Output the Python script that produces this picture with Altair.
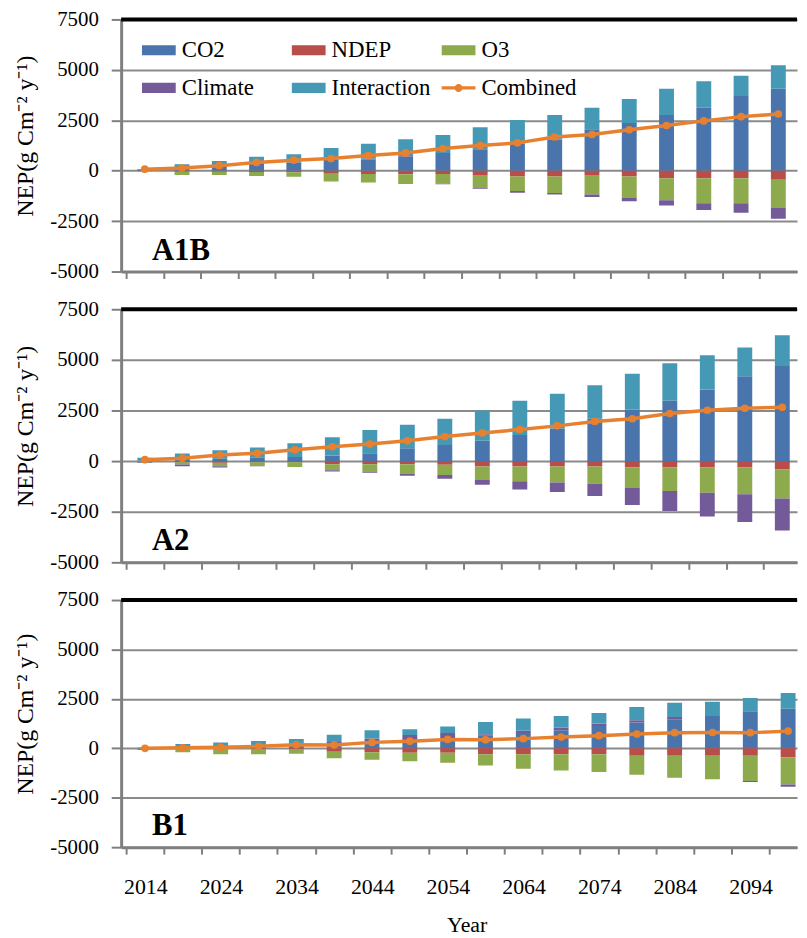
import altair as alt
import pandas as pd

years = list(range(2014, 2100, 5))
series = ["CO2", "NDEP", "O3", "Climate", "Interaction"]

# A1B
a1b_co2 = [40, 120, 180, 280, 330, 560, 560, 700, 880, 1060, 1350, 1540, 2060, 2360, 2760, 3120, 3700, 4060]
a1b_ndep = [-10, -50, -50, -60, -80, -150, -160, -170, -160, -210, -290, -290, -210, -290, -370, -370, -370, -450]
a1b_o3 = [-20, -160, -160, -200, -220, -380, -430, -490, -490, -650, -720, -810, -970, -1060, -1100, -1250, -1250, -1380]
a1b_climate = [20, 40, 60, 90, 70, 90, 40, 30, -20, -30, -80, -80, -130, -160, -260, -330, -470, -550]
a1b_interaction = [30, 165, 245, 325, 420, 470, 730, 830, 890, 1090, 1170, 1220, 1060, 1200, 1300, 1320, 1010, 1170]
a1b_combined = [75, 130, 250, 410, 520, 600, 750, 880, 1100, 1250, 1380, 1670, 1800, 2030, 2240, 2470, 2680, 2810]

# A2
a2_co2 = [30, 100, 120, 170, 200, 280, 390, 630, 800, 1000, 1290, 1610, 2090, 2540, 2980, 3540, 4190, 4700]
a2_ndep = [-20, -60, -80, -60, -60, -160, -160, -160, -180, -270, -270, -270, -270, -320, -320, -320, -320, -420]
a2_o3 = [-50, -110, -170, -180, -230, -290, -350, -450, -510, -640, -730, -790, -850, -1010, -1160, -1240, -1320, -1430]
a2_climate = [-20, -80, -70, -20, 0, -60, -70, -110, -180, -260, -400, -470, -610, -840, -980, -1180, -1370, -1580]
a2_interaction = [130, 280, 420, 500, 680, 900, 1140, 1170, 1290, 1500, 1690, 1720, 1660, 1770, 1850, 1690, 1420, 1520]
a2_combined = [70, 145, 300, 390, 560, 710, 840, 1000, 1210, 1390, 1560, 1740, 1960, 2090, 2350, 2510, 2610, 2660]

# B1
b1_co2 = [20, 70, 90, 120, 170, 250, 350, 470, 470, 630, 770, 920, 1130, 1300, 1470, 1630, 1880, 2000]
b1_ndep = [-10, -40, -60, -60, -60, -170, -200, -230, -230, -300, -300, -300, -300, -370, -370, -370, -370, -450]
b1_o3 = [-20, -160, -240, -240, -220, -330, -380, -430, -500, -570, -730, -820, -900, -970, -1120, -1200, -1280, -1380]
b1_climate = [-40, 20, 30, 40, 50, 70, 150, 200, 300, 80, 120, 130, 130, 120, 120, 0, -50, -120]
b1_interaction = [20, 130, 180, 210, 250, 360, 420, 300, 330, 620, 620, 580, 530, 670, 720, 720, 670, 800]
b1_combined = [0, 30, 50, 100, 180, 170, 300, 360, 450, 430, 490, 570, 640, 720, 790, 800, 790, 870]

y_ticks = [-5000, -2500, 0, 2500, 5000, 7500]

FONT = "Liberation Serif"
GRAY = "#8a8a8a"
AXGRAY = "#7f7f7f"
COLORS = ["#4A75AC", "#B94D4A", "#8DAA4D", "#735A98", "#4699B5", "#E8812F"]
LEG_DOMAIN = series + ["Combined"]
RECT = "M-1,-0.3H1V0.3H-1Z"
COMB_SYM = "M-1,-0.1H1V0.1H-1Z M0.24,0A0.24,0.24 0 1 1 -0.24,0A0.24,0.24 0 1 1 0.24,0Z"

W = 681
X0 = 2011.5
tick_vals = [X0 + 5 * k for k in range(18)]

panels = [
    dict(name="A1B", comps=[a1b_co2, a1b_ndep, a1b_o3, a1b_climate, a1b_interaction],
         comb=a1b_combined, height=254, xmax=2100.84),
    dict(name="A2", comps=[a2_co2, a2_ndep, a2_o3, a2_climate, a2_interaction],
         comb=a2_combined, height=255, xmax=2100.30),
    dict(name="B1", comps=[b1_co2, b1_ndep, b1_o3, b1_climate, b1_interaction],
         comb=b1_combined, height=249, xmax=2099.52),
]


def bars_df(comps):
    rows = []
    for si, (s, vals) in enumerate(zip(series, comps)):
        for yr, v in zip(years, vals):
            rows.append({"year": yr, "series": s, "order": si, "value": v})
    return pd.DataFrame(rows)


def make_panel(p, first, last):
    h = p["height"]
    ppy = W / (p["xmax"] - X0)
    xscale = alt.Scale(domain=[X0, p["xmax"]], nice=False, zero=False)
    yscale = alt.Scale(domain=[-5000, 7500], nice=False, zero=False)
    color_scale = alt.Scale(domain=LEG_DOMAIN, range=COLORS)

    xkw = dict(values=tick_vals, grid=False, domainColor=AXGRAY, domainWidth=3,
               tickColor=AXGRAY, tickWidth=2, tickSize=7)
    if last:
        xkw.update(labels=True, title="Year",
                   labelExpr="((datum.value - 2011.5) / 5) % 2 == 0 ? toString(datum.value + 2.5) : ''",
                   labelOffset=2.5 * ppy, labelFont=FONT, labelFontSize=22, labelColor="black",
                   labelPadding=23, labelOverlap=False, labelFlush=False,
                   titleFont=FONT, titleFontSize=22, titleFontWeight="normal", titleColor="black",
                   titlePadding=17, titleX=45 * ppy)
    else:
        xkw.update(labels=False, title=None)
    xaxis = alt.Axis(**xkw)

    yaxis = alt.Axis(values=y_ticks, labelExpr="datum.value + ''", grid=True, gridColor=GRAY,
                     gridWidth=2, domainColor=AXGRAY, domainWidth=3, tickColor=AXGRAY,
                     tickWidth=2, tickSize=10, labelFont=FONT, labelFontSize=21,
                     labelColor="black", labelPadding=13, title="NEP(g Cm\u207b\u00b2 y\u207b\u00b9)",
                     titleFont=FONT, titleFontSize=24, titleFontWeight="normal",
                     titleColor="black", titlePadding=12, titleY=h / 2 - 10)

    bdf = bars_df(p["comps"])
    cdf = pd.DataFrame({"year": years, "value": p["comb"], "series": "Combined"})

    bars = alt.Chart(bdf).mark_bar(size=15, clip=True).encode(
        x=alt.X("year:Q", scale=xscale, axis=xaxis),
        y=alt.Y("value:Q", scale=yscale, axis=yaxis, stack="zero"),
        color=alt.Color("series:N", scale=color_scale, legend=None),
        order=alt.Order("order:Q", sort="ascending"),
    )
    line = alt.Chart(cdf).mark_line(strokeWidth=3.5, clip=True).encode(
        x=alt.X("year:Q", scale=xscale),
        y=alt.Y("value:Q", scale=yscale),
        color=alt.Color("series:N", scale=color_scale, legend=None),
    )
    pts = alt.Chart(cdf).mark_point(filled=True, size=60, opacity=1, clip=True).encode(
        x=alt.X("year:Q", scale=xscale),
        y=alt.Y("value:Q", scale=yscale),
        color=alt.Color("series:N", scale=color_scale, legend=None),
        shape=alt.value("circle"),
    )
    label = alt.Chart(pd.DataFrame({"t": [p["name"]]})).mark_text(
        font=FONT, fontSize=31, fontWeight="bold", align="left", baseline="alphabetic", color="black"
    ).encode(x=alt.value(31), y=alt.value(h - 12), text="t:N")
    top = alt.Chart(pd.DataFrame({"a": [0]})).mark_rule(color="black", strokeWidth=4).encode(
        x=alt.value(0), x2=alt.value(W), y=alt.value(0)
    )
    layers = [bars, line, pts]
    if first:
        leg = alt.Legend(orient="none", legendX=21, legendY=14, columns=3, direction="horizontal",
                         gridAlign="all", columnPadding=11, rowPadding=9, symbolSize=1156,
                         symbolStrokeWidth=0, symbolOpacity=1, labelFont=FONT, labelFontSize=23,
                         labelColor="black", labelOffset=6, labelLimit=300, padding=0, title=None)
        ldf = pd.DataFrame({"series": LEG_DOMAIN, "year": [None] * 6, "value": [None] * 6})
        legl = alt.Chart(ldf).mark_point(filled=True, opacity=1).encode(
            x=alt.X("year:Q", scale=xscale),
            y=alt.Y("value:Q", scale=yscale),
            color=alt.Color("series:N", scale=color_scale, legend=leg),
            shape=alt.Shape("series:N", scale=alt.Scale(domain=LEG_DOMAIN, range=[RECT] * 5 + [COMB_SYM]),
                            legend=leg),
        )
        layers.append(legl)
    layers += [label, top]
    return alt.layer(*layers).resolve_scale(color="independent", shape="independent").properties(
        width=W, height=h)


charts = [make_panel(p, i == 0, i == len(panels) - 1) for i, p in enumerate(panels)]

chart = alt.vconcat(*charts, spacing=38, bounds="flush").resolve_scale(
    color="independent", shape="independent"
).properties(
    padding={"left": 6, "top": -3, "right": 0, "bottom": 0},
    background="white",
).configure_view(stroke=None)

chart.save("out.html", embed_options={"renderer": "svg", "actions": False})
